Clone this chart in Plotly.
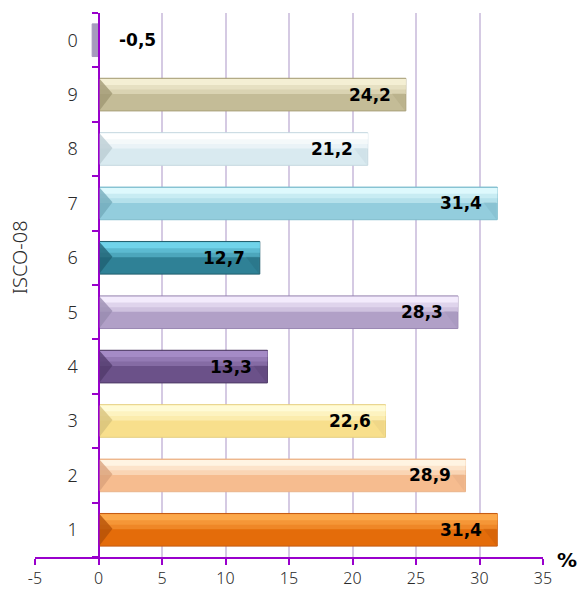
import plotly.graph_objects as go

categories = ["1", "2", "3", "4", "5", "6", "7", "8", "9", "0"]
values = [31.4, 28.9, 22.6, 13.3, 28.3, 12.7, 31.4, 21.2, 24.2, -0.5]
x_ticks = [-5, 0, 5, 10, 15, 20, 25, 30, 35]

bottom_colors = ["#e46c0a", "#f6bc8f", "#f8df8c", "#6b5189", "#b1a0c7",
                 "#2f8196", "#93cddd", "#d9eaf0", "#c4bc97", "#a69abd"]
top_colors = ["#fca84a", "#fff4e2", "#fffbd6", "#a58bc6", "#f3ebfc",
              "#70d3ea", "#def9fd", "#ffffff", "#f4efd4", "#a69abd"]
edge_colors = ["#c55a11", "#e9b48b", "#e5cf82", "#4e3a66", "#9a88b3",
               "#215e6e", "#7fbccc", "#c4d8df", "#a9a07a", "#a69abd"]
bevel_colors = ["#b24f07", "#d8a07a", "#d6c07a", "#503a6b", "#978aae",
                "#1f5f70", "#70a8b8", "#b8cbd2", "#9e9670", "#a69abd"]


def blend(c1, c2, t):
    a = [int(c1[i:i + 2], 16) for i in (1, 3, 5)]
    b = [int(c2[i:i + 2], 16) for i in (1, 3, 5)]
    return "#%02x%02x%02x" % tuple(round(a[k] + (b[k] - a[k]) * t) for k in range(3))


pos = list(range(len(categories)))
BAR_W = 0.6
HALF = BAR_W / 2

fig = go.Figure()
fig.add_trace(go.Bar(
    x=values, y=pos, orientation="h", width=BAR_W,
    marker=dict(color=bottom_colors, line=dict(color=edge_colors, width=1)),
    hoverinfo="skip", showlegend=False,
))

# highlight stripes on the upper part of each bar (gradient imitation)
for frac, t in [(0.46, 0.45), (0.32, 0.7), (0.18, 1.0)]:
    cols = [blend(b, tc, t) for b, tc in zip(bottom_colors, top_colors)]
    w = BAR_W * frac
    fig.add_trace(go.Bar(
        x=[v if v > 0 else 0 for v in values], y=pos, orientation="h",
        width=w, offset=HALF - w - 0.015,
        marker=dict(color=cols, line=dict(width=0)),
        hoverinfo="skip", showlegend=False,
    ))

shapes = []
BEVEL = 1.1
for p, v, bc in zip(pos, values, bevel_colors):
    if v <= 0:
        continue
    shapes.append(dict(
        type="path", xref="x", yref="y", layer="above",
        path=f"M 0.08,{p + HALF - 0.01} L {BEVEL},{p + 0.02} L 0.08,{p - HALF + 0.01} Z",
        fillcolor=bc, opacity=0.75, line=dict(width=0),
    ))
    # subtle right-end bevel
    shapes.append(dict(
        type="path", xref="x", yref="y", layer="above",
        path=f"M {v - 0.08},{p + 0.02} L {v - BEVEL},{p + 0.02} L {v - 0.08},{p - HALF + 0.01} Z",
        fillcolor=bc, opacity=0.25, line=dict(width=0),
    ))

LABEL_FONT = dict(family="DejaVu Sans", size=17, color="#000000")
annotations = []
for p, v in zip(pos, values):
    txt = "<b>" + f"{v:.1f}".replace(".", ",") + "</b>"
    if v > 0:
        annotations.append(dict(x=v, y=p, xref="x", yref="y", text=txt,
                                showarrow=False, xanchor="right", xshift=-13,
                                font=LABEL_FONT))
    else:
        annotations.append(dict(x=0, y=p, xref="x", yref="y", text=txt,
                                showarrow=False, xanchor="left", xshift=18,
                                font=LABEL_FONT))

TICK_FONT = dict(family="Noto Sans", size=18, color="#2a2a2a", weight=300)
X_TICK_FONT = dict(family="Noto Sans", size=16, color="#2a2a2a", weight=300)
annotations.append(dict(x=-0.0315, y=0.551, xref="paper", yref="paper", text="ISCO-08",
                        textangle=-90, showarrow=False, xanchor="center", yanchor="middle",
                        font=dict(family="Noto Sans", size=20, color="#2a2a2a", weight=300)))
annotations.append(dict(x=1.047, y=0, xref="paper", yref="paper", text="<b>%</b>",
                        showarrow=False, xanchor="center", yanchor="middle", yshift=-3,
                        font=dict(family="DejaVu Sans", size=20, color="#000000")))

fig.update_layout(
    width=578, height=590,
    margin=dict(l=35, r=35, t=13, b=33, autoexpand=False),
    paper_bgcolor="white", plot_bgcolor="white",
    barmode="overlay",
    shapes=shapes, annotations=annotations,
    xaxis=dict(
        range=[-5, 35], tickvals=x_ticks, ticktext=[str(t) for t in x_ticks],
        showgrid=True, gridcolor="#d5cae3", gridwidth=1.5,
        zeroline=False, showline=True, linecolor="#9900cc", linewidth=2,
        ticks="outside", ticklen=6, tickcolor="#9900cc", tickwidth=2,
        tickfont=X_TICK_FONT, automargin=False,
        fixedrange=True,
    ),
    yaxis=dict(
        range=[-0.5, 9.5], tickvals=pos, ticktext=categories,
        anchor="free", position=0.125,
        showgrid=False, zeroline=False,
        showline=True, linecolor="#9900cc", linewidth=2,
        ticks="", ticklabelstandoff=16, automargin=False,
        minor=dict(tickvals=[p - 0.5 for p in pos] + [9.5], ticks="outside",
                   ticklen=6, tickcolor="#9900cc", tickwidth=2, showgrid=False),
        tickfont=TICK_FONT,
        fixedrange=True,
    ),
)

# remove the browser's default 8px body margin so the figure fills the window
fig.write_html("out.html", config={"displayModeBar": False},
               post_script="document.body.style.margin='0';document.body.style.overflow='hidden';")
